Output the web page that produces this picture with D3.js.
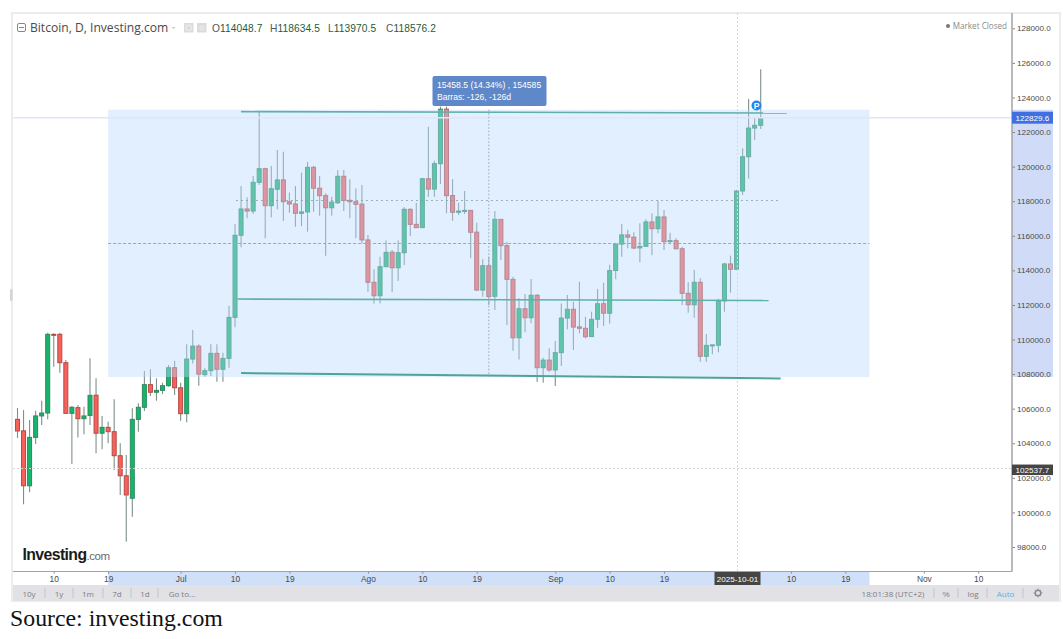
<!DOCTYPE html>
<html>
<head>
<meta charset="utf-8">
<script src="https://cdn.jsdelivr.net/npm/d3@7"></script>
<style>
html,body{margin:0;padding:0;background:#fff;}
svg{display:block;font-family:"Liberation Sans",Arial,sans-serif;}
</style>
</head>
<body>
<svg id="chart" width="1063" height="639"></svg>
<script>
// Daily BTC candles, first bar on 2025-06-04
const firstDay = Date.UTC(2025, 5, 4);
const opens = [105385,104720,101540,104340,105580,105750,110300,110300,108660,105730,106060,105420,105610,106780,104580,104920,104670,103280,102120,100820,105380,106080,107390,106950,107060,107330,108370,107210,105710,108870,109620,107970,108200,109200,108280,108910,111280,116030,117550,117430,119090,119880,117740,118690,119230,117970,117840,117300,117380,119960,118750,118320,117620,117910,119440,118050,117970,117830,115760,113310,112530,114210,115050,114150,115020,117530,116660,116470,119300,118700,120170,123320,118330,117360,117430,117470,116210,112860,114270,112500,116950,115430,113480,110100,111780,111260,112560,108370,108810,108240,109240,111240,111750,110730,110650,110170,111170,112070,111520,113990,115520,116050,115920,115300,115390,116800,116410,117090,115660,115720,115250,112670,112010,113310,109030,109660,109670,112230,114370,114060,118590,120570,122230,122390];
const highs = [106040,105920,105340,105880,106460,110390,110360,110390,108810,106150,106210,106110,108910,107760,105580,105250,106540,104000,103320,106020,106310,108180,108280,107760,107500,108530,108770,107500,109720,110550,109720,108340,109720,109720,109240,111950,116680,118880,118220,119460,123180,119940,120040,120960,120860,118510,118880,119650,120270,120050,119460,118460,118260,119800,119800,119270,118750,118940,116040,114060,114790,115720,115180,115720,117650,117590,117910,119310,122310,120340,123470,123470,119270,117910,118590,117480,116760,114640,114790,117430,116960,115660,113630,112380,112630,113500,112630,108950,109490,109910,112090,112570,112190,113340,111320,111610,112920,113290,114330,115580,116680,116350,116200,116720,116950,117300,118030,117490,116180,115850,115370,113310,114020,113540,110320,109700,112360,114440,114850,118650,121060,123910,122850,125630];
const lows = [104300,100470,101160,103960,105060,105390,108430,108080,105720,102800,104340,104520,105060,103420,103650,104000,102450,101010,98300,99750,104670,105870,106730,106460,106850,107270,106790,105300,105210,108620,107330,107850,107890,107560,107560,108370,110710,115330,117010,117260,118940,115850,117070,117530,116850,117330,116520,116560,116240,117390,117160,114850,117160,117840,117430,117010,115850,115560,112760,112090,112090,114190,112730,113380,114310,115990,116450,116450,118260,118260,118990,117300,116870,117200,117260,114700,112800,112480,112000,111710,114600,110840,109350,108850,110420,110940,107560,107500,108140,107310,108470,110590,109390,110360,110070,110160,110680,110780,110910,113480,114790,115280,115220,114470,115370,114870,116140,115180,115510,115220,112000,111550,111260,108720,108720,109150,109260,111610,112710,114020,118360,119320,121540,122180];
const closes = [104710,101540,104340,105580,105750,110300,110260,108660,105730,106080,105420,105580,106770,104580,104920,104670,103280,102120,101010,105380,106080,107390,106950,107060,107330,108370,107210,105710,108870,109620,108000,108200,109200,108280,108910,111280,116030,117550,117430,119090,119880,117740,118720,119230,117970,117840,117300,117380,119960,118750,118320,117620,117950,119440,118050,117970,117820,115760,113310,112530,114210,115040,114150,115020,117530,116660,116470,119300,118700,120170,123320,118320,117360,117430,117470,116200,112860,114270,112480,116950,115430,113480,110100,111780,111260,112560,108370,108810,108240,109240,111240,111750,110720,110650,110160,111170,112070,111520,113990,115520,116050,115920,115290,115390,116800,116410,117090,115660,115720,115250,112670,112010,113310,109030,109660,109690,112230,114370,114060,118590,120570,122230,122390,122810];

// Price levels and date offsets of the drawing tools
const rangeLow = 107831, rangeHigh = 123290, rangeMid = 115553;
const rangeFromDay = 15, rangeToDay = 141;
const topLine = [[37, 123180], [127.3, 123100]];
const midLine = [[36.4, 112340], [124.3, 112260]];
const lowLine = [[37, 108060], [126.3, 107745]];
const dottedLine = [[36.2, 118040], [126.3, 118040]];
const midDay = 78;
const lastPrice = 122829.6, cursorPrice = 102537.7, cursorDay = 119.15;

// Axis ticks
const priceTicks = d3.range(98000, 128001, 2000);
const dateTicks = [[5,10,"10"],[5,19,"19"],[6,1,"Jul"],[6,10,"10"],[6,19,"19"],[7,1,"Ago"],[7,10,"10"],[7,19,"19"],[8,1,"Sep"],[8,10,"10"],[8,19,"19"],[9,10,"10"],[9,19,"19"],[10,1,"Nov"],[10,10,"10"]];
const rangeButtons = [["10y",29],["1y",59],["1m",88],["7d",117],["1d",145],["Go to...",182]];
const rangeSeps = [45,73,103,131,158];
const toolSeps = [934,958,987,1023];
const ohlc = [["O","114048.7",212],["H","118634.5",270],["L","113970.5",328],["C","118576.2",386]];

const dayMs = 864e5;
const dateOf = i => new Date(firstDay + i * dayMs);
const plot = {l:13, r:1012, t:13, b:571.5};

const x = d3.scaleUtc().domain([dateOf(0), dateOf(163)]).range([17.5, 1002.4]);
const y = d3.scaleLinear().domain([98000, 128000]).range([547, 28.3]);

const svg = d3.select("#chart");
const SANS = "'Liberation Sans',Arial,sans-serif";
const SOFT = "'Open Sans',sans-serif";

// Frame and bottom toolbar
svg.append("rect").attr("x",12).attr("y",13).attr("width",1048).attr("height",588).attr("fill","#fff").attr("stroke","#ececf0").attr("stroke-width",2);
svg.append("rect").attr("x",13).attr("y",585).attr("width",1046).attr("height",16).attr("fill","#e1e1e6");
svg.append("rect").attr("x",10).attr("y",289).attr("width",2.5).attr("height",12).attr("rx",1).attr("fill","#d4d4d8");

// Highlighted axis spans of the measured range
svg.append("rect").attr("x",x(dateOf(rangeFromDay))).attr("y",plot.b+0.5).attr("width",x(dateOf(rangeToDay))-x(dateOf(rangeFromDay))).attr("height",13).attr("fill","#d0e0f8");
svg.append("rect").attr("x",plot.r).attr("y",y(rangeHigh)).attr("width",41).attr("height",y(rangeLow)-y(rangeHigh)).attr("fill","#d0dcf7");

// Candles
const n = opens.length, idx = d3.range(n);
const candles = svg.append("g");
candles.selectAll("line").data(idx).join("line")
  .attr("x1",i=>x(dateOf(i))).attr("x2",i=>x(dateOf(i)))
  .attr("y1",i=>y(highs[i])).attr("y2",i=>y(lows[i]))
  .attr("stroke","#7f8f8a").attr("stroke-width",1.1);
candles.selectAll("rect").data(idx).join("rect")
  .attr("x",i=>x(dateOf(i))-2).attr("width",4)
  .attr("y",i=>y(Math.max(opens[i],closes[i])))
  .attr("height",i=>Math.max(1,Math.abs(y(opens[i])-y(closes[i]))))
  .attr("fill",i=>closes[i]>=opens[i]?"#17b56c":"#f8615a")
  .attr("stroke",i=>closes[i]>=opens[i]?"#2c8a60":"#b44a44")
  .attr("stroke-width",1);

// Measured range overlay sits on top of the candles
svg.append("rect")
  .attr("x",x(dateOf(rangeFromDay))).attr("width",x(dateOf(rangeToDay))-x(dateOf(rangeFromDay)))
  .attr("y",y(rangeHigh)).attr("height",y(rangeLow)-y(rangeHigh))
  .attr("fill","rgb(186,219,253)").attr("fill-opacity",0.43);

// Last price and cursor guides
svg.append("line").attr("x1",plot.l).attr("x2",plot.r).attr("y1",y(lastPrice)).attr("y2",y(lastPrice)).attr("stroke","#dfe6f8").attr("stroke-width",1.6);
svg.append("line").attr("x1",plot.l).attr("x2",plot.r).attr("y1",y(cursorPrice)).attr("y2",y(cursorPrice)).attr("stroke","#d6d6d6").attr("stroke-dasharray","2 2");
svg.append("line").attr("x1",x(dateOf(cursorDay))).attr("x2",x(dateOf(cursorDay))).attr("y1",plot.t).attr("y2",plot.b).attr("stroke","#d6d6da").attr("stroke-dasharray","2 2");

// Drawing tools
const lineGen = d3.line().x(d=>x(dateOf(d[0]))).y(d=>y(d[1]));
svg.append("path").attr("d",lineGen(topLine)).attr("fill","none").attr("stroke","#5fb0a6").attr("stroke-width",1.6);
svg.append("path").attr("d",lineGen(midLine)).attr("fill","none").attr("stroke","#5fb0a6").attr("stroke-width",1.6);
svg.append("path").attr("d",lineGen(lowLine)).attr("fill","none").attr("stroke","#4fa595").attr("stroke-width",2);
svg.append("path").attr("d",lineGen(dottedLine)).attr("fill","none").attr("stroke","#7fa09c").attr("stroke-width",1).attr("stroke-dasharray","1.5 3.5");
svg.append("path").attr("d",lineGen([[rangeFromDay,rangeMid],[rangeToDay,rangeMid]])).attr("fill","none").attr("stroke","#9aa8b0").attr("stroke-width",1).attr("stroke-dasharray","3 2");
svg.append("line").attr("x1",x(dateOf(midDay))).attr("x2",x(dateOf(midDay))).attr("y1",y(rangeHigh)).attr("y2",y(rangeLow)).attr("stroke","#9aa8b0").attr("stroke-dasharray","1.5 2");

// Measure tooltip
svg.append("rect").attr("x",432.5).attr("y",76).attr("width",114).attr("height",30).attr("rx",2).attr("fill","#5f88c8");
svg.append("text").attr("x",437).attr("y",88).attr("font-size",8.6).attr("fill","#fff").text("15458.5 (14.34%) , 154585");
svg.append("text").attr("x",437).attr("y",100).attr("font-size",8.6).attr("fill","#fff").text("Barras: -126, -126d");

// Split marker
svg.append("circle").attr("cx",x(dateOf(122.3))).attr("cy",105.5).attr("r",5).attr("fill","#1e88f0");
svg.append("text").attr("x",x(dateOf(122.3))).attr("y",108.7).attr("text-anchor","middle").attr("font-size",8.5).attr("font-weight","bold").attr("fill","#fff").text("P");

// Price axis
const yAxis = d3.axisRight(y).tickValues(priceTicks).tickSize(3).tickPadding(2).tickFormat(d3.format(".1f"));
const gy = svg.append("g").attr("transform",`translate(${plot.r},0)`).call(yAxis);
gy.select(".domain").remove();
svg.append("line").attr("x1",plot.r).attr("x2",plot.r).attr("y1",plot.t).attr("y2",plot.b).attr("stroke","#a3a3a6").attr("stroke-width",1.5);
gy.selectAll("line").attr("stroke","#888");
gy.selectAll("text").attr("font-size",8.1).attr("fill","#4a4a4a").attr("font-family",SANS);

// Time axis
const xAxis = d3.axisBottom(x)
  .tickValues(dateTicks.map(d=>new Date(Date.UTC(2025,d[0],d[1]))))
  .tickFormat((d,i)=>dateTicks[i][2]).tickSize(2).tickPadding(3);
const gx = svg.append("g").attr("transform",`translate(0,${plot.b})`).call(xAxis);
gx.select(".domain").remove();
svg.append("line").attr("x1",plot.l).attr("x2",plot.r).attr("y1",plot.b).attr("y2",plot.b).attr("stroke","#a3a3a6").attr("stroke-width",1.2);
gx.selectAll("line").attr("stroke","#888");
gx.selectAll("text").attr("font-size",8.4).attr("fill","#4a4a4a").attr("font-family",SANS);

// Axis value flags
const flag = (px,py,w,h,fill,label,fs) => {
  svg.append("rect").attr("x",px).attr("y",py).attr("width",w).attr("height",h).attr("fill",fill);
  svg.append("text").attr("x",px+w/2).attr("y",py+h/2+3).attr("text-anchor","middle").attr("font-size",fs).attr("fill","#fff").text(label);
};
flag(plot.r,y(lastPrice)-6,41,12,"#3f6fe0",lastPrice.toFixed(1),8.1);
flag(plot.r,y(cursorPrice)-4,41,10.5,"#454545",cursorPrice.toFixed(1),8.1);
flag(714.5,572,46,13,"#454545","2025-10-01",8.1);

// Header
svg.append("rect").attr("x",17.5).attr("y",23.5).attr("width",8).attr("height",8).attr("rx",1.5).attr("fill","none").attr("stroke","#888");
svg.append("line").attr("x1",19).attr("x2",24).attr("y1",27.5).attr("y2",27.5).attr("stroke","#888");
svg.append("text").attr("x",30).attr("y",32).attr("font-size",12.1).attr("fill","#4a4a4a").attr("font-family",SOFT).text("Bitcoin, D, Investing.com");
svg.append("path").attr("d",d3.line()([[171.5,27],[175.5,27],[173.5,29]])).attr("fill","#c8c8c8");
[184,197].forEach((px,k)=>{
  svg.append("rect").attr("x",px).attr("y",23).attr("width",9.5).attr("height",9.5).attr("fill","#dcdcde");
  svg.append("circle").attr("cx",px+4.7).attr("cy",27.8).attr("r",k?1.8:2.8).attr("fill","none").attr("stroke","#f2f2f2");
});
ohlc.forEach(d=>{
  const t = svg.append("text").attr("x",d[2]).attr("y",32).attr("font-size",10.2).attr("letter-spacing",0.1);
  t.append("tspan").attr("fill","#555").text(d[0]);
  t.append("tspan").attr("fill","#1d5c3c").text(d[1]);
});
svg.append("circle").attr("cx",948).attr("cy",26).attr("r",2).attr("fill","#777");
svg.append("text").attr("x",1007).attr("y",29).attr("text-anchor","end").attr("font-size",8.1).attr("fill","#8a8a8a").attr("font-family",SOFT).text("Market Closed");

// Wordmark
const mark = svg.append("text").attr("x",22.5).attr("y",559.5);
mark.append("tspan").attr("font-size",15.8).attr("font-weight","bold").attr("letter-spacing",-0.6).attr("fill","#1a1a1a").text("Investing");
mark.append("tspan").attr("font-size",11.5).attr("letter-spacing",-0.4).attr("fill","#6a6a6a").text(".com");

// Toolbar
rangeButtons.forEach(d=>svg.append("text").attr("x",d[1]).attr("y",596.5).attr("text-anchor","middle").attr("font-size",8).attr("fill","#7d7d80").attr("font-family",SOFT).text(d[0]));
rangeSeps.concat(toolSeps).forEach(s=>svg.append("line").attr("x1",s).attr("x2",s).attr("y1",588).attr("y2",598).attr("stroke","#c4c4c8"));
svg.append("text").attr("x",893).attr("y",596.5).attr("text-anchor","middle").attr("font-size",8).attr("fill","#7d7d80").attr("font-family",SOFT).text("18:01:38 (UTC+2)");
svg.append("text").attr("x",946).attr("y",596.5).attr("text-anchor","middle").attr("font-size",8).attr("fill","#7d7d80").text("%");
svg.append("text").attr("x",973).attr("y",596.5).attr("text-anchor","middle").attr("font-size",8).attr("fill","#7d7d80").attr("font-family",SOFT).text("log");
svg.append("text").attr("x",1005.5).attr("y",596.5).attr("text-anchor","middle").attr("font-size",8).attr("fill","#58b2dc").attr("font-family",SOFT).text("Auto");
svg.append("circle").attr("cx",1038).attr("cy",593).attr("r",2.8).attr("fill","none").attr("stroke","#8a8a8a").attr("stroke-width",1.4);
d3.range(8).forEach(k=>{
  const a = k*Math.PI/4;
  svg.append("line").attr("x1",1038+3.2*Math.cos(a)).attr("y1",593+3.2*Math.sin(a)).attr("x2",1038+4.4*Math.cos(a)).attr("y2",593+4.4*Math.sin(a)).attr("stroke","#8a8a8a");
});

// Caption
svg.append("text").attr("x",10).attr("y",626).attr("font-size",23.8).attr("fill","#111").attr("font-family","'Liberation Serif','Times New Roman',serif").text("Source: investing.com");
</script>
</body>
</html>
